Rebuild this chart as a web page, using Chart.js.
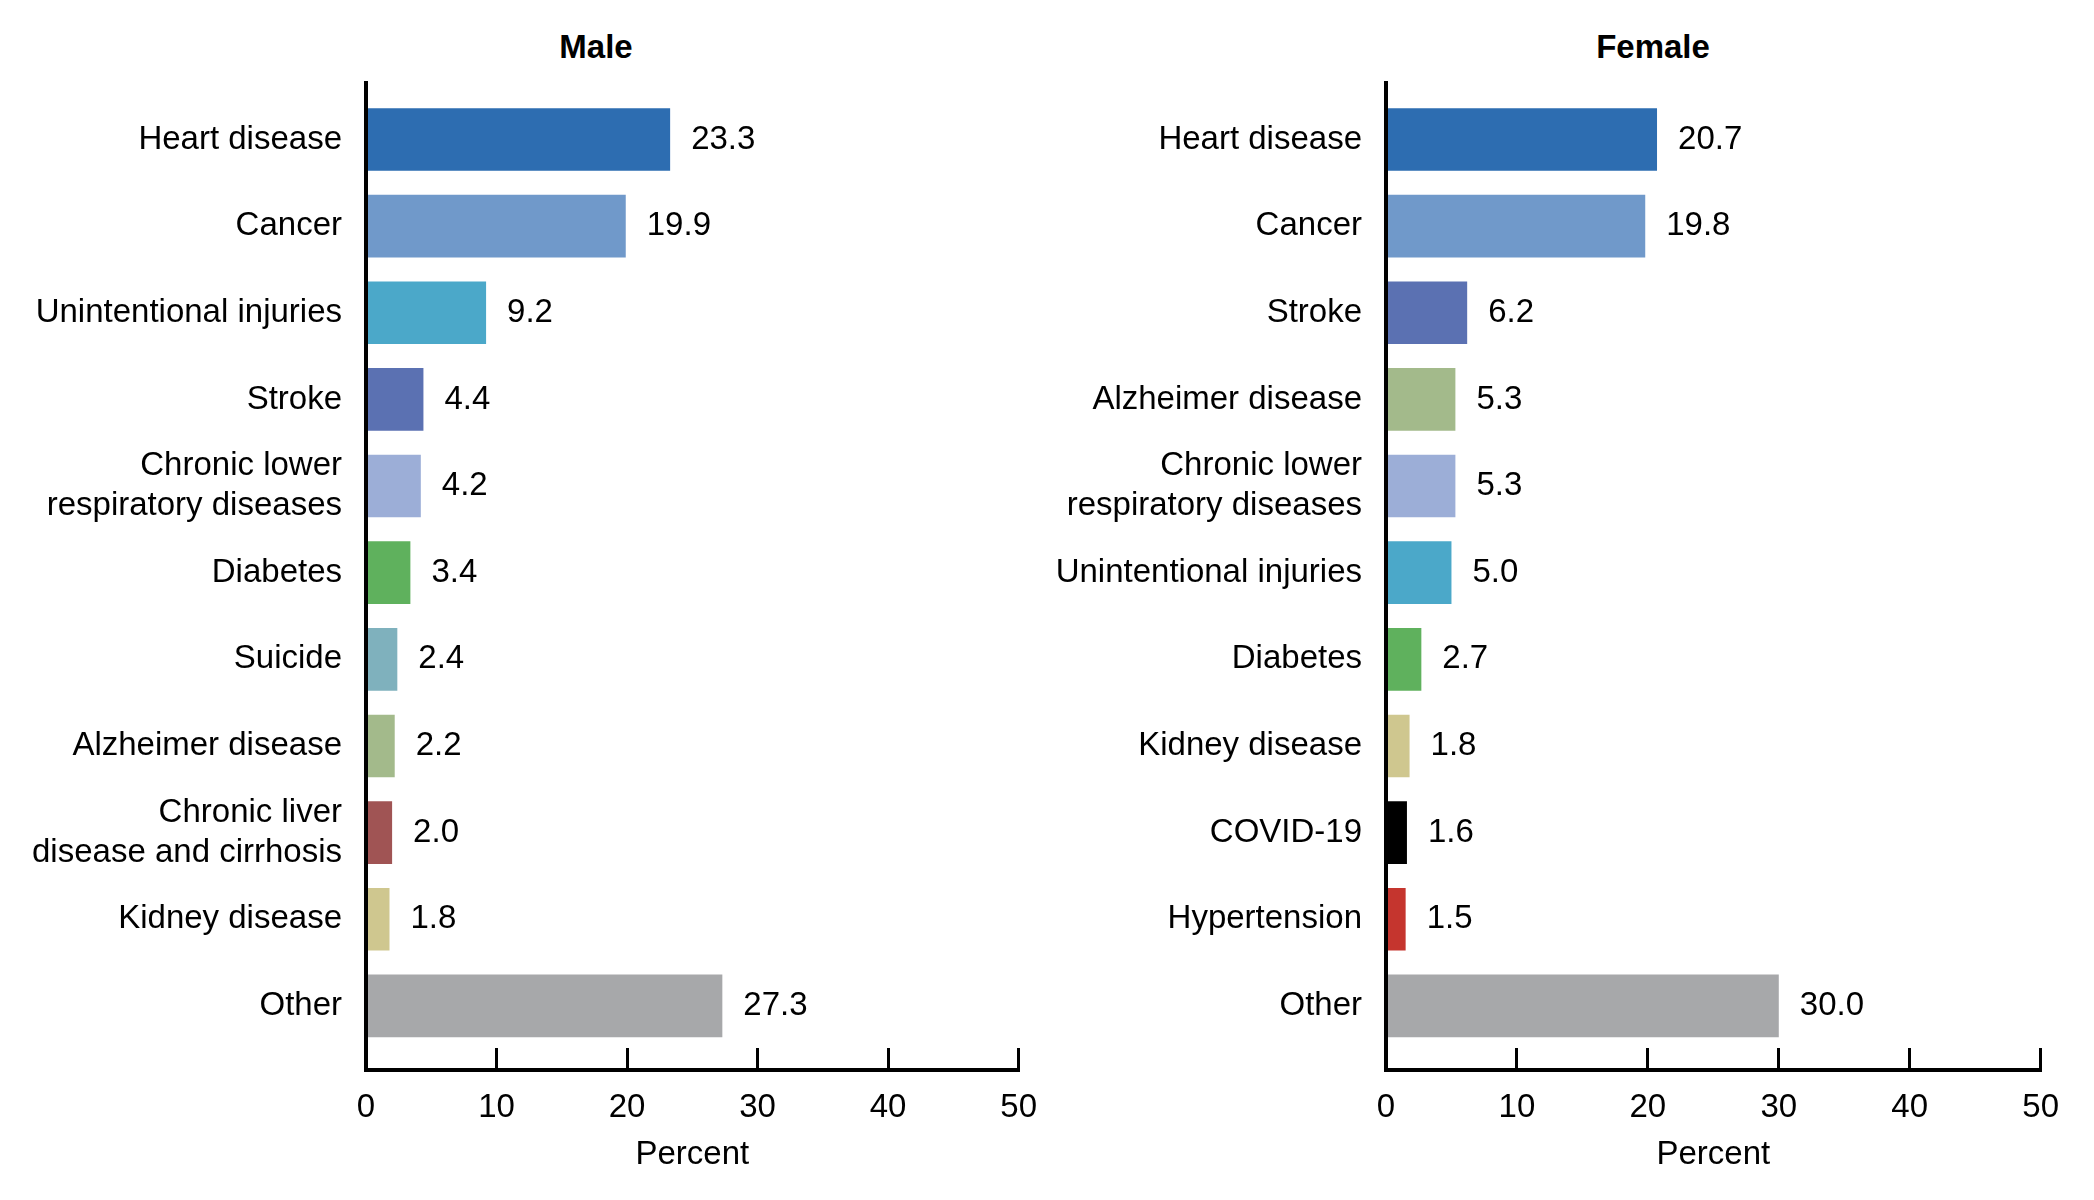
<!DOCTYPE html>
<html lang="en">
  <head>
    <meta charset="UTF-8" />
    <title>Leading causes of death, male and female</title>
    <script src="https://cdn.jsdelivr.net/npm/chart.js"></script>
    <style>
      body {
        margin: 0;
        width: 2094px;
        height: 1200px;
        overflow: hidden;
        position: relative;
        background: #fff;
        font-family: "Liberation Sans", Arial, Helvetica, sans-serif;
      }
      .panel {
        position: absolute;
        top: 0;
      }
      .panel-title {
        position: absolute;
        top: 27px;
        width: 400px;
        margin-left: -200px;
        text-align: center;
        font-weight: bold;
        font-size: 33px;
        line-height: 40px;
        color: #000;
      }
    </style>
  </head>
  <body>
    <div class="panel-title" style="left: 596px">Male</div>
    <div class="panel-title" style="left: 1653px">Female</div>
    <canvas id="maleChart" class="panel" width="1077" height="1200" style="left: 0"></canvas>
    <canvas id="femaleChart" class="panel" width="1052" height="1200" style="left: 1047px"></canvas>

    <script>
      // causes of death, top to bottom
      const maleCauses = [
        "Heart disease",
        "Cancer",
        "Unintentional injuries",
        "Stroke",
        ["Chronic lower", "respiratory diseases"],
        "Diabetes",
        "Suicide",
        "Alzheimer disease",
        ["Chronic liver", "disease and cirrhosis"],
        "Kidney disease",
        "Other",
      ];
      const malePercent = [23.3, 19.9, 9.2, 4.4, 4.2, 3.4, 2.4, 2.2, 2.0, 1.8, 27.3];

      const femaleCauses = [
        "Heart disease",
        "Cancer",
        "Stroke",
        "Alzheimer disease",
        ["Chronic lower", "respiratory diseases"],
        "Unintentional injuries",
        "Diabetes",
        "Kidney disease",
        "COVID-19",
        "Hypertension",
        "Other",
      ];
      const femalePercent = [20.7, 19.8, 6.2, 5.3, 5.3, 5.0, 2.7, 1.8, 1.6, 1.5, 30.0];

      const percentTicks = [0, 10, 20, 30, 40, 50];

      // one colour per cause
      const causeColors = {
        "Heart disease": "#2d6db1",
        "Cancer": "#7099ca",
        "Unintentional injuries": "#4ba8c9",
        "Stroke": "#5b71b2",
        "Chronic lower respiratory diseases": "#9caed7",
        "Diabetes": "#5fb15d",
        "Suicide": "#7fb1bd",
        "Alzheimer disease": "#a3ba8b",
        "Chronic liver disease and cirrhosis": "#a05454",
        "Kidney disease": "#cfc78f",
        "COVID-19": "#000000",
        "Hypertension": "#c5352e",
        "Other": "#a7a8aa",
      };

      Chart.defaults.font.family = '"Liberation Sans", Arial, Helvetica, sans-serif';
      Chart.defaults.font.size = 33;
      Chart.defaults.color = "#000";

      // writes the value just right of each bar
      const valueLabels = {
        id: "valueLabels",
        afterDatasetsDraw(chart) {
          const ctx = chart.ctx;
          const ds = chart.data.datasets[0];
          ctx.save();
          ctx.font = '33px "Liberation Sans", Arial, sans-serif';
          ctx.fillStyle = "#000";
          ctx.textAlign = "left";
          ctx.textBaseline = "middle";
          chart.getDatasetMeta(0).data.forEach((bar, i) => {
            ctx.fillText(ds.data[i].x.toFixed(1), bar.x + 21, bar.y);
          });
          ctx.restore();
        },
      };

      function makeChart(id, causes, values, labelWidth) {
        const keys = causes.map((c) => [].concat(c).join(" "));
        return new Chart(document.getElementById(id), {
          type: "bar",
          data: {
            datasets: [
              {
                data: values.map((v, i) => ({ x: v, y: i })),
                backgroundColor: keys.map((k) => causeColors[k]),
                categoryPercentage: 1,
                barPercentage: 0.723,
              },
            ],
          },
          options: {
            indexAxis: "y",
            responsive: false,
            animation: false,
            layout: { padding: { top: 83, left: 0, right: 0, bottom: 0 } },
            plugins: {
              legend: { display: false },
              tooltip: { enabled: false },
            },
            scales: {
              x: {
                type: "linear",
                min: 0,
                max: 50,
                afterBuildTicks: (s) => {
                  s.ticks = percentTicks.map((v) => ({ value: v }));
                },
                afterFit: (s) => {
                  s.height = 130;
                },
                ticks: { padding: 40 },
                grid: {
                  drawOnChartArea: false,
                  drawTicks: true,
                  tickLength: -22,
                  color: "#000",
                  lineWidth: 3,
                },
                border: { display: true, color: "#000", width: 4 },
                title: {
                  display: true,
                  text: "Percent",
                  color: "#000",
                  padding: { top: 0, bottom: 25 },
                },
              },
              y: {
                type: "linear",
                offset: false,
                reverse: true,
                min: -0.652,
                max: 10.74,
                afterBuildTicks: (s) => {
                  s.ticks = causes.map((_, i) => ({ value: i }));
                },
                afterFit: (s) => {
                  s.width = labelWidth;
                },
                ticks: {
                  autoSkip: false,
                  padding: 24,
                  font: { size: 33, lineHeight: 1.22 },
                  callback: (v) => causes[v],
                },
                grid: { display: false, drawTicks: false, offset: false },
                border: { display: true, color: "#000", width: 4, z: 1 },
              },
            },
          },
          plugins: [valueLabels],
        });
      }

      makeChart("maleChart", maleCauses, malePercent, 366);
      makeChart("femaleChart", femaleCauses, femalePercent, 339);
    </script>
  </body>
</html>
